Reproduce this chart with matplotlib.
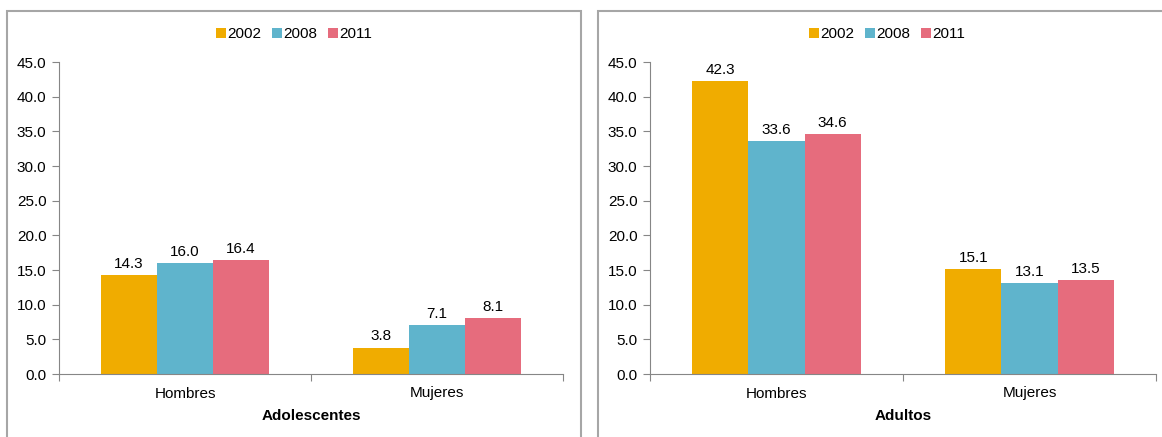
import numpy as np
import matplotlib.pyplot as plt
from matplotlib.patches import Rectangle

plt.rcParams['font.family'] = ['Liberation Sans', 'DejaVu Sans']

categorias = ['Hombres', 'Mujeres']
anios = ['2002', '2008', '2011']
adolescentes = [[14.3, 3.8], [16.0, 7.1], [16.4, 8.1]]
adultos = [[42.3, 15.1], [33.6, 13.1], [34.6, 13.5]]
paneles = ['Adolescentes', 'Adultos']
colores = ['#F0AC00', '#5FB4CC', '#E66C7D']
yticks = np.arange(0, 45.1, 5)

W, H = 1162, 437
fs = 11
fig = plt.figure(figsize=(W / 100, H / 100), dpi=100)


def px_box(x0, y0, x1, y1):
    # pixel box (top-left origin) -> figure fraction rect
    return [x0 / W, 1 - y1 / H, (x1 - x0) / W, (y1 - y0) / H]


# panel borders (bottom and far right cut off in the original)
borde = '#A6A6A6'
for (x0, x1) in [(7, 581), (598, 1175)]:
    fig.add_artist(Rectangle((x0 / W, -0.05), (x1 - x0) / W, 1 - 11 / H + 0.05,
                             transform=fig.transFigure, fill=False,
                             edgecolor=borde, linewidth=1.5))

posiciones = [(59, 563, 294), (650, 1156, 887)]
datos = [adolescentes, adultos]

for (x0, x1, xc), vals, titulo in zip(posiciones, datos, paneles):
    ax = fig.add_axes(px_box(x0, 62, x1, 374))
    x = np.arange(len(categorias))
    w = 0.222
    handles = []
    for i, (anio, serie) in enumerate(zip(anios, vals)):
        bars = ax.bar(x + (i - 1) * w, serie, w, color=colores[i], label=anio)
        handles.append(bars)
        for b, v in zip(bars, serie):
            ax.annotate(f'{v:.1f}', (b.get_x() + b.get_width() / 2, v),
                        xytext=(0, 3), textcoords='offset points',
                        ha='center', va='bottom', fontsize=fs)
    ax.set_xlim(-0.5, 1.5)
    ax.set_ylim(0, 45)
    ax.set_yticks(yticks)
    ax.set_yticklabels([f'{t:.1f}' for t in yticks], fontsize=fs)
    ax.set_xticks([-0.5, 0.5, 1.5])
    ax.set_xticklabels([])
    ax.set_xticks(x, minor=True)
    ax.set_xticklabels(categorias, minor=True, fontsize=fs)
    ax.tick_params(axis='x', which='minor', length=0, pad=9)
    ax.tick_params(axis='x', which='major', length=5, color='#868686')
    ax.tick_params(axis='y', length=5, color='#868686', pad=4)
    for s in ['top', 'right']:
        ax.spines[s].set_visible(False)
    for s in ['left', 'bottom']:
        ax.spines[s].set_color('#868686')
    ax.set_xlabel(titulo, fontsize=fs, fontweight='bold', labelpad=6)
    ax.legend(handles=handles, labels=anios, ncol=3, frameon=False,
              loc='center', bbox_to_anchor=(xc / W, 1 - 34 / H),
              bbox_transform=fig.transFigure, fontsize=fs,
              handlelength=0.65, handleheight=0.65, handletextpad=0.1,
              columnspacing=0.7)

fig.savefig('out.png', dpi=100)
